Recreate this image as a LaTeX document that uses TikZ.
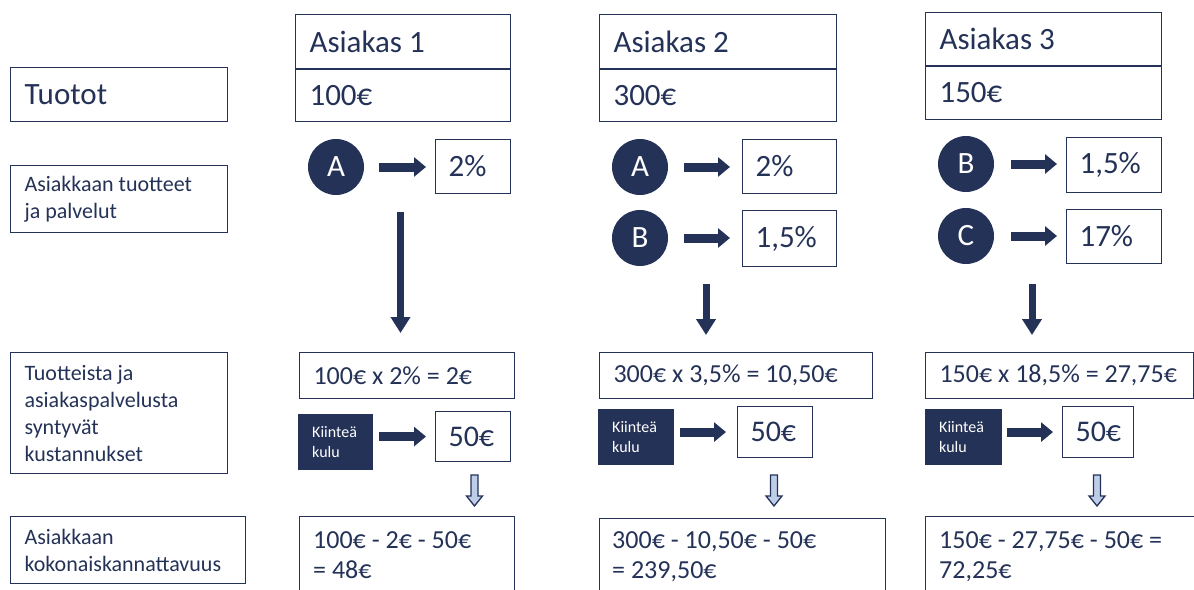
\documentclass[tikz,border=0pt]{standalone}
\usepackage{fontspec}
\setmainfont{Carlito}
\usetikzlibrary{arrows.meta,calc}
\definecolor{navy}{RGB}{36,50,87}
\definecolor{paleblue}{RGB}{190,206,232}

% downward hollow arrow whose top centre is #1
\newcommand\hollowdown[1]{%
  \filldraw[fill=paleblue, draw=navy, line width=1.3pt, line join=miter]
    (#1) ++(-3.5,0) -- ++(0,21) -- ++(-4.5,0) -- ++(8,10) -- ++(8,-10) -- ++(-4.5,0) -- ++(0,-21) -- cycle;}

\begin{document}
\begin{tikzpicture}[x=1pt,y=-1pt,
  box/.style={draw=navy, line width=1.1pt, text=navy, inner xsep=14pt, inner ysep=0pt,
              anchor=north west, align=flush left},
  big/.style={box, font=\fontsize{31}{37}\selectfont},
  lab/.style={box, font=\fontsize{22}{27}\selectfont},
  calcbox/.style={box, font=\fontsize{26}{30}\selectfont},
  pct/.style={box, inner xsep=13pt, font=\fontsize{31}{37}\selectfont},
  fee/.style={box, inner xsep=13pt, font=\fontsize{30}{36}\selectfont},
  prod/.style={circle, fill=navy, text=white, minimum size=56pt, inner sep=0pt,
               font=\fontsize{31}{37}\selectfont},
  fixed/.style={fill=navy, text=white, anchor=north west, align=flush left, inner xsep=14pt,
                inner ysep=0pt, font=\fontsize{16}{20}\selectfont},
  restext/.style={anchor=north west, inner sep=0pt, align=flush left, text=navy,
                  font=\fontsize{26}{30}\selectfont},
  divider/.style={draw=navy, line width=2.6pt},
  blockarrow/.style={draw=navy, line width=9pt, -{Triangle[length=12pt,width=19pt]}},
  downarrow/.style={draw=navy, line width=7pt, -{Triangle[length=16pt,width=19pt]}},
]
\useasboundingbox (0,0) rectangle (1194,589);
\clip (0,0) rectangle (1194,589);

% ---- row labels ----
\node[big, text width=189pt, minimum height=54pt] (tuotot) at (10,67) {Tuotot};
\node[lab, text width=189pt, minimum height=67pt] (tuotteet) at (10,165) {Asiakkaan tuotteet\\ja palvelut};
\node[lab, text width=189pt, minimum height=121pt] (kust) at (10,352)
  {Tuotteista ja\\asiakaspalvelusta\\syntyvät\\kustannukset};
\node[lab, text width=207pt, minimum height=67pt] (kann) at (10,516) {Asiakkaan\\kokonaiskannattavuus};

% ---- customer 1 ----
\node[big, text width=187pt, minimum height=54pt] (head1) at (295,14) {Asiakas 1};
\node[big, text width=187pt, minimum height=53pt] (val1) at (295,68) {100€};
\draw[divider] (head1.south west) -- (head1.south east);
\node[prod] (a1) at (336,167) {A};
\node[pct, text width=49pt, minimum height=54pt] (p1a) at (435,139) {2\%};
\draw[blockarrow, shorten <=15pt, shorten >=9pt] (a1) -- (a1 -| p1a.west);
\coordinate (v1) at (400.5,0);
\draw[downarrow, shorten <=18pt, shorten >=19pt] (v1 |- p1a.south) -- (v1 |- 0,352);
\node[calcbox, text width=187pt, minimum height=46pt] (calc1) at (299,352) {\mbox{100€ x 2\% = 2€}};
\node[fixed, text width=47pt, minimum height=56pt] (k1) at (298,414) {Kiinteä\\kulu};
\node[fee, text width=49pt, minimum height=50pt] (f1) at (435,411) {50€};
\draw[blockarrow, shorten <=6pt, shorten >=9pt] (k1.east |- f1.west) -- (f1.west);
\node[box, minimum width=215pt, minimum height=100pt, inner sep=0pt] (res1) at (299,516) {};
\hollowdown{474.5,475}
\node[restext] (res1t) at ($(res1.north west)+(14,10)$) {\rule{0pt}{22pt}100€ - 2€ - 50€\\= 48€};

% ---- customer 2 ----
\node[big, text width=209pt, minimum height=54pt] (head2) at (599,14) {Asiakas 2};
\node[big, text width=209pt, minimum height=53pt] (val2) at (599,68) {300€};
\draw[divider] (head2.south west) -- (head2.south east);
\node[prod] (a2) at (640,167) {A};
\node[prod] (b2) at (640,238) {B};
\node[pct, text width=68pt, minimum height=54pt] (p2a) at (742,139) {2\%};
\node[pct, text width=68pt, minimum height=56pt] (p2b) at (742,210) {1,5\%};
\draw[blockarrow, shorten <=16pt, shorten >=12pt] (a2) -- (a2 -| p2a.west);
\draw[blockarrow, shorten <=16pt, shorten >=12pt] (b2) -- (b2 -| p2b.west);
\node[calcbox, text width=245pt, minimum height=46pt] (calc2) at (599,352) {\mbox{300€ x 3,5\% = 10,50€}};
\coordinate (v2) at (706,0);
\draw[downarrow, shorten <=17pt, shorten >=17pt] (v2 |- p2b.south) -- (v2 |- calc2.north);
\node[fixed, text width=48pt, minimum height=56pt] (k2) at (598,409) {Kiinteä\\kulu};
\node[fee, text width=49pt, minimum height=51pt] (f2) at (737,406) {50€};
\draw[blockarrow, shorten <=6pt, shorten >=11pt] (k2.east |- f2.west) -- (f2.west);
\node[box, minimum width=286pt, minimum height=100pt, inner sep=0pt] (res2) at (599,518) {};
\hollowdown{774,475}
\node[restext] (res2t) at ($(res2.north west)+(13,8)$) {\rule{0pt}{22pt}300€ - 10,50€ - 50€\\= 239,50€};

% ---- customer 3 ----
\node[big, text width=208pt, minimum height=53pt] (head3) at (925,12) {Asiakas 3};
\node[big, text width=208pt, minimum height=54pt] (val3) at (925,65) {150€};
\draw[divider] (head3.south west) -- (head3.south east);
\node[prod] (b3) at (966,164) {B};
\node[prod] (c3) at (966,236) {C};
\node[pct, text width=69pt, minimum height=55pt] (p3a) at (1066,137) {1,5\%};
\node[pct, text width=69pt, minimum height=54pt] (p3b) at (1066,209) {17\%};
\draw[blockarrow, shorten <=17pt, shorten >=9pt] (b3) -- (b3 -| p3a.west);
\draw[blockarrow, shorten <=17pt, shorten >=9pt] (c3) -- (c3 -| p3b.west);
\node[calcbox, text width=240pt, minimum height=46pt] (calc3) at (925,352) {\mbox{150€ x 18,5\% = 27,75€}};
\coordinate (v3) at (1032,0);
\draw[downarrow, shorten <=20pt, shorten >=17pt] (v3 |- p3b.south) -- (v3 |- calc3.north);
\node[fixed, text width=49pt, minimum height=56pt] (k3) at (925,409) {Kiinteä\\kulu};
\node[fee, text width=45pt, minimum height=51pt] (f3) at (1062,406) {50€};
\draw[blockarrow, shorten <=5pt, shorten >=9pt] (k3.east |- f3.west) -- (f3.west);
\node[box, minimum width=290pt, minimum height=100pt, inner sep=0pt] (res3) at (925,516) {};
\hollowdown{1097,475}
\node[restext] (res3t) at ($(res3.north west)+(14,10)$) {\rule{0pt}{22pt}150€ - 27,75€ - 50€ =\\72,25€};
\end{tikzpicture}
\end{document}
